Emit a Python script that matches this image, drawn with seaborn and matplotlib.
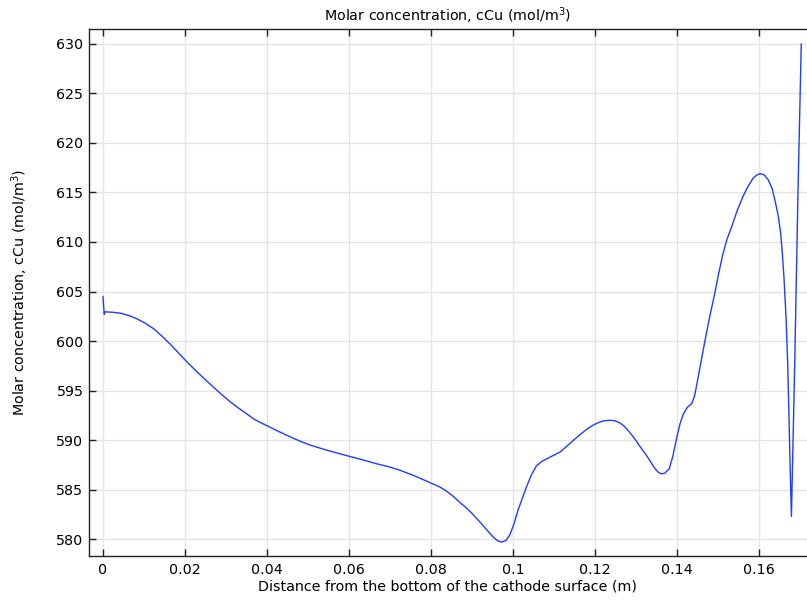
import numpy as np
import pandas as pd
import matplotlib
matplotlib.use("Agg")
import matplotlib.pyplot as plt
import seaborn as sns

# Copper concentration along the cathode surface
distance_m = [
    0.0000, 0.0003, 0.0005, 0.0025, 0.0044, 0.0065, 0.0085, 0.0105, 0.0125,
    0.0145, 0.0166, 0.0183, 0.0200, 0.0224, 0.0247, 0.0268, 0.0288, 0.0308,
    0.0328, 0.0349, 0.0369, 0.0385, 0.0400, 0.0432, 0.0465, 0.0485, 0.0505,
    0.0546, 0.0600, 0.0634, 0.0668, 0.0698, 0.0725, 0.0765, 0.0800, 0.0820,
    0.0838, 0.0855, 0.0869, 0.0885, 0.0900, 0.0920, 0.0937, 0.0952, 0.0962,
    0.0972, 0.0982, 0.0992, 0.1002, 0.1012, 0.1033, 0.1045, 0.1057, 0.1070,
    0.1082, 0.1115, 0.1148, 0.1165, 0.1180, 0.1195, 0.1210, 0.1222, 0.1235,
    0.1248, 0.1260, 0.1270, 0.1280, 0.1290, 0.1299, 0.1314, 0.1328, 0.1345,
    0.1353, 0.1361, 0.1370, 0.1381, 0.1390, 0.1398, 0.1407, 0.1415, 0.1425,
    0.1436, 0.1443, 0.1450, 0.1459, 0.1468, 0.1480, 0.1492, 0.1502, 0.1512,
    0.1522, 0.1533, 0.1547, 0.1561, 0.1573, 0.1585, 0.1594, 0.1602, 0.1612,
    0.1622, 0.1632, 0.1640, 0.1647, 0.1653, 0.1657, 0.1661, 0.1666, 0.1670,
    0.1673, 0.1676, 0.1679, 0.1687, 0.1695, 0.1703,
]
c_cu = [
    604.5, 602.7, 602.95, 602.9, 602.8, 602.55, 602.2, 601.75, 601.2,
    600.45, 599.6, 598.85, 598.1, 597.1, 596.2, 595.4, 594.65, 593.95,
    593.3, 592.7, 592.1, 591.75, 591.45, 590.8, 590.17, 589.82, 589.5,
    588.98, 588.37, 588.0, 587.6, 587.3, 586.95, 586.3, 585.66, 585.3,
    584.85, 584.3, 583.75, 583.2, 582.6, 581.7, 580.9, 580.2, 579.85,
    579.7, 579.85, 580.4, 581.5, 582.9, 585.3, 586.5, 587.4, 587.85,
    588.1, 588.8, 590.0, 590.6, 591.1, 591.5, 591.8, 591.95, 592.0,
    591.95, 591.75, 591.45, 591.0, 590.5, 590.0, 589.1, 588.3, 587.2,
    586.8, 586.6, 586.65, 587.1, 588.4, 590.0, 591.6, 592.6, 593.3,
    593.7, 594.5, 596.0, 598.0, 600.0, 602.5, 604.8, 606.9, 608.8,
    610.3, 611.5, 613.2, 614.6, 615.6, 616.4, 616.75, 616.9, 616.8,
    616.3, 615.4, 614.0, 612.6, 610.8, 608.8, 606.3, 602.3, 597.6,
    592.5, 587.1, 582.3, 597.6, 615.0, 630.0,
]
x_ticks = [0, 0.02, 0.04, 0.06, 0.08, 0.1, 0.12, 0.14, 0.16]
x_tick_labels = ["0", "0.02", "0.04", "0.06", "0.08", "0.1", "0.12", "0.14", "0.16"]
y_ticks = [580, 585, 590, 595, 600, 605, 610, 615, 620, 625, 630]

df = pd.DataFrame({"x": distance_m, "c": c_cu})

sns.set_theme(style="white")
plt.rcParams["font.family"] = ["DejaVu Sans"]
plt.rcParams["mathtext.fontset"] = "dejavusans"
plt.rcParams["text.color"] = "black"
plt.rcParams["axes.labelcolor"] = "black"

fs = 10.3

fig = plt.figure(figsize=(8.07, 6.00), dpi=100)
ax = fig.add_axes([89 / 807, 1 - 556 / 600, 1 - 89 / 807, (556 - 29) / 600])

sns.lineplot(data=df, x="x", y="c", ax=ax, sort=False, estimator=None,
             color="#1f3dff", linewidth=1.0)

ax.set_xlim(-0.00341, 0.1717)
ax.set_ylim(578.3, 631.5)
ax.set_xticks(x_ticks)
ax.set_xticklabels(x_tick_labels)
ax.set_yticks(y_ticks)

ax.grid(True, color="#e4e4e4", linewidth=1.0)
ax.set_axisbelow(True)

for side in ["left", "bottom", "top"]:
    ax.spines[side].set_visible(True)
    ax.spines[side].set_color("#222222")
    ax.spines[side].set_linewidth(1.0)
ax.spines["right"].set_visible(False)

ax.tick_params(axis="both", which="major", direction="in", length=5,
               width=1.0, color="#222222", labelsize=fs, labelcolor="black")
ax.tick_params(axis="x", top=True, bottom=True, pad=5)
ax.tick_params(axis="y", left=True, right=False, pad=4)

ax.set_xlabel("Distance from the bottom of the cathode surface (m)",
              fontsize=fs, labelpad=2)
ax.set_ylabel(r"Molar concentration, cCu (mol/m$^3$)", fontsize=fs, labelpad=19)
ax.set_title(r"Molar concentration, cCu (mol/m$^3$)", fontsize=fs, pad=6)

fig.savefig("out.png", dpi=100, facecolor="white")
